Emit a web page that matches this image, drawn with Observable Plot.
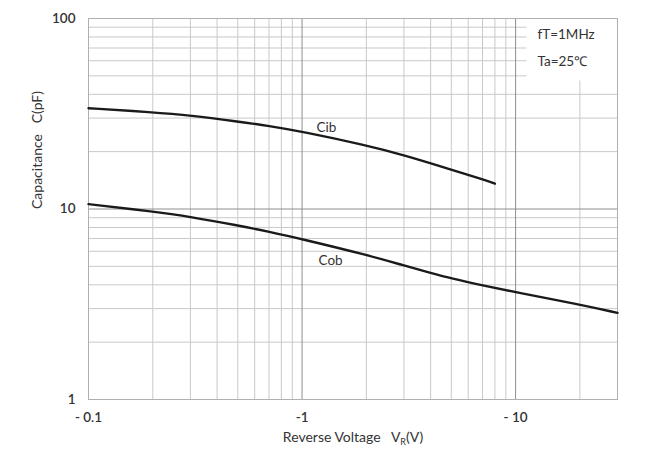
<!DOCTYPE html>
<html><head><meta charset="utf-8">
<script src="https://cdn.jsdelivr.net/npm/d3@7"></script>
<script src="https://cdn.jsdelivr.net/npm/@observablehq/plot@0.6"></script>
<style>
body{margin:0;background:#fff;}
svg text{white-space:pre;}
</style>
</head><body><div id="chart"></div>
<script>
// Reverse voltage magnitudes (V) and capacitance (pF)
const cibV = [0.1, 0.2, 0.3, 0.5, 0.7, 1, 2, 3, 5, 7, 8];
const cibC = [33.8, 32.2, 31.0, 28.8, 27.3, 25.5, 21.6, 19.2, 16.1, 14.3, 13.6];
const cobV = [0.1, 0.2, 0.3, 0.5, 0.7, 1, 2, 3, 4, 5, 7, 10, 20, 30];
const cobC = [10.6, 9.7, 9.1, 8.2, 7.6, 6.95, 5.75, 5.05, 4.62, 4.32, 3.97, 3.66, 3.15, 2.85];

const seriesNames = ["Cib", "Cob"];
const labelV = [1.3, 1.36];
const labelC = [26.8, 5.37];

const xTicks = [0.1, 1, 10];
const xTickLabels = ["- 0.1", "-1", "- 10"];
const yTicks = [1, 10, 100];
const yTickLabels = ["1", "10", "100"];

const xMinor = [0.2,0.3,0.4,0.5,0.6,0.7,0.8,0.9,2,3,4,5,6,7,8,9,20];
const xMajor = [1, 10];
const yMinor = [2,3,4,5,6,7,8,9,20,30,40,50,60,70,80,90];
const yMajor = [10];

const conditions = ["fT=1MHz", "Ta=25\u2103"];
// white box behind the condition text (data space)
const condBox = [{x1: 11.3, x2: 30, y1: 47, y2: 100}];

const xTitle = "Reverse Voltage   VR(V)";
const yTitle = "Capacitance   C(pF)";

const cib = cibV.map((v, i) => ({v, c: cibC[i]}));
const cob = cobV.map((v, i) => ({v, c: cobC[i]}));
const labels = seriesNames.map((s, i) => ({s, v: labelV[i], c: labelC[i]}));

const chart = Plot.plot({
  width: 652, height: 456,
  marginLeft: 88, marginRight: 35, marginTop: 18, marginBottom: 57,
  style: {fontFamily: "Lato, 'Open Sans', sans-serif", fontSize: "13px", color: "#333", background: "#fff"},
  x: {type: "log", domain: [0.1, 30]},
  y: {type: "log", domain: [1, 100]},
  marks: [
    Plot.ruleX(xMinor, {stroke: "#c9c9c9", strokeWidth: 1}),
    Plot.ruleY(yMinor, {stroke: "#c9c9c9", strokeWidth: 1}),
    Plot.rect(condBox, {x1: "x1", x2: "x2", y1: "y1", y2: "y2", fill: "white"}),
    Plot.ruleX(xMajor, {stroke: "#8e8e8e", strokeWidth: 1}),
    Plot.ruleY(yMajor, {stroke: "#8e8e8e", strokeWidth: 1}),
    Plot.frame({stroke: "#b0b0b0"}),
    Plot.line(cib, {x: "v", y: "c", stroke: "#1a1a1a", strokeWidth: 2.4, curve: "basis"}),
    Plot.line(cob, {x: "v", y: "c", stroke: "#1a1a1a", strokeWidth: 2.4, curve: "basis"}),
    Plot.text(labels, {x: "v", y: "c", text: "s", fill: "#333", fontSize: 13.5}),
    Plot.text([conditions.join("\n")], {frameAnchor: "top-right", textAnchor: "start", lineAnchor: "top", dx: -80, dy: 1, lineHeight: 2.0, fill: "#333", fontSize: 13.5}),
    Plot.axisX(xTicks, {tickSize: 0, tickPadding: 13, tickFormat: (d) => xTickLabels[xTicks.indexOf(d)], label: null, fill: "#333", fontWeight: 600, fontSize: 13.5}),
    Plot.axisY(yTicks, {tickSize: 0, tickPadding: 13, tickFormat: (d) => yTickLabels[yTicks.indexOf(d)], label: null, fill: "#333", fontWeight: 600, fontSize: 13.5}),
    Plot.text([xTitle], {frameAnchor: "bottom", dy: 42, fill: "#333", fontSize: 14}),
    Plot.text([yTitle], {frameAnchor: "left", dx: -51, rotate: -90, fill: "#333", fontSize: 14})
  ]
});
document.getElementById("chart").appendChild(chart);

// subscript R in the x title
d3.select(chart).selectAll("text").filter(function() { return this.textContent === xTitle; })
  .each(function() {
    const t = d3.select(this);
    t.text(null);
    t.append("tspan").text("Reverse Voltage   V");
    t.append("tspan").attr("font-size", 9).attr("dy", 3).text("R");
    t.append("tspan").attr("dy", -3).text("(V)");
  });
</script>
</body></html>
